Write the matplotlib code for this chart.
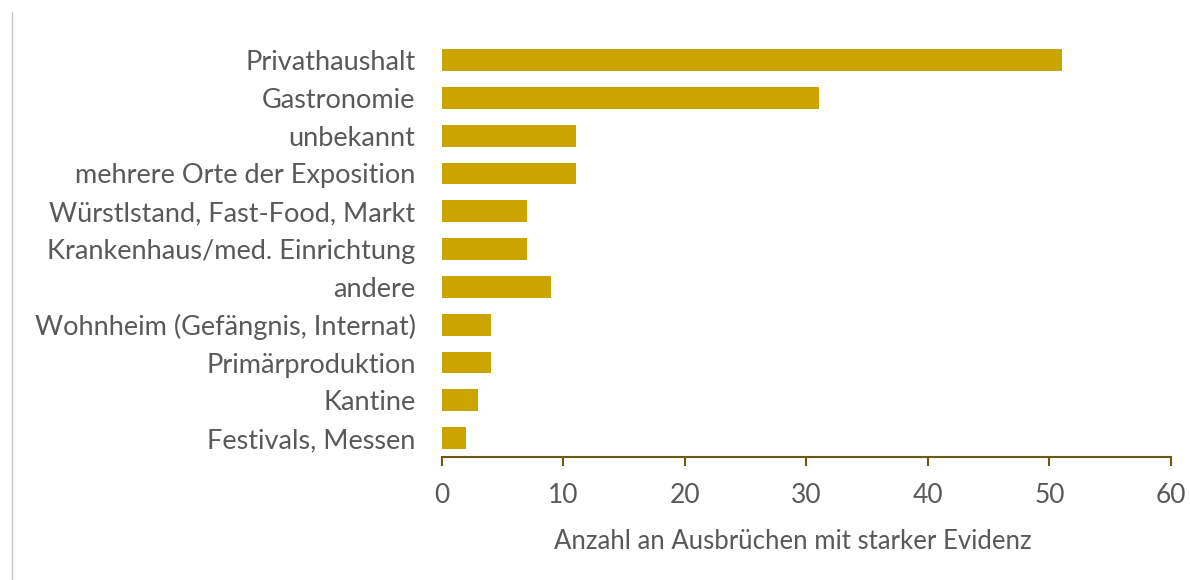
import matplotlib.pyplot as plt
from matplotlib.lines import Line2D

categories = [
    "Privathaushalt",
    "Gastronomie",
    "unbekannt",
    "mehrere Orte der Exposition",
    "Würstlstand, Fast-Food, Markt",
    "Krankenhaus/med. Einrichtung",
    "andere",
    "Wohnheim (Gefängnis, Internat)",
    "Primärproduktion",
    "Kantine",
    "Festivals, Messen",
]
values = [51, 31, 11, 11, 7, 7, 9, 4, 4, 3, 2]
xticks = [0, 10, 20, 30, 40, 50, 60]

plt.rcParams['font.family'] = ['Lato', 'DejaVu Sans']
grey = "#595959"
axis_col = "#6B5A14"

fig = plt.figure(figsize=(11.9, 5.8), dpi=100)
ax = fig.add_axes([0.3714, 0.212, 0.6126, 0.717])

ypos = list(range(len(categories)))
ax.barh(ypos, values, height=0.58, color="#CCA400")
ax.set_ylim(len(categories) - 0.5, -0.5)
ax.set_xlim(0, 60)
ax.set_xticks(xticks)
ax.set_yticks(ypos)
ax.set_yticklabels(categories, fontsize=19.5, color=grey)
ax.tick_params(axis='y', length=0, pad=19)
ax.tick_params(axis='x', direction='out', length=6.5, width=1.5, color=axis_col,
               labelsize=19, labelcolor=grey, pad=12)
for s in ["top", "right", "left"]:
    ax.spines[s].set_visible(False)
ax.spines["bottom"].set_color(axis_col)
ax.spines["bottom"].set_linewidth(1.5)
ax.set_xlabel("Anzahl an Ausbrüchen mit starker Evidenz", fontsize=18.5, color=grey)
ax.xaxis.set_label_coords(0.481, -0.174)

fig.add_artist(Line2D([0.0105, 0.0105], [0.0, 0.98], color="#C8C8C8", lw=1))

fig.savefig("out.png", dpi=100)
